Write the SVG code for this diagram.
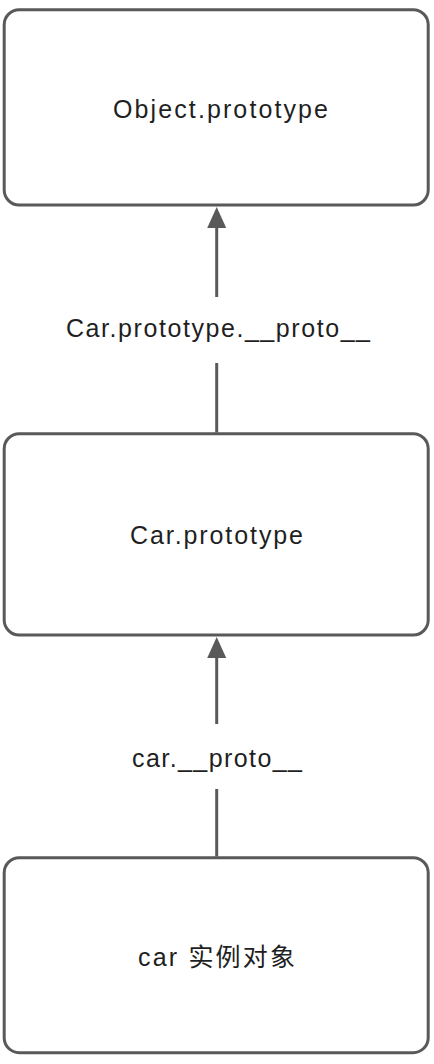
<svg xmlns="http://www.w3.org/2000/svg" width="434" height="1064" viewBox="0 0 434 1064">
<style>
.box{fill:#ffffff;stroke:#595959;stroke-width:3}
.lbl{font-family:"Liberation Sans","Noto Sans CJK SC",sans-serif;font-size:25px;fill:#1f1f1f}
.con{stroke:#595959;stroke-width:3;fill:none}
</style>
<defs>
<marker id="arr" viewBox="0 0 21 19" refX="0" refY="9.5" markerWidth="21" markerHeight="19" markerUnits="userSpaceOnUse" orient="auto">
<path d="M0,0 L21,9.5 L0,19 z" fill="#595959"/>
</marker>
</defs>
<rect width="434" height="1064" fill="#ffffff"/>
<g id="node-object-prototype">
<rect class="box" x="4.2" y="9.7" width="424" height="195.3" rx="15"/>
<text class="lbl" x="113" y="118" textLength="215">Object.prototype</text>
</g>
<g id="node-car-prototype">
<rect class="box" x="4.2" y="433.7" width="424" height="201.3" rx="15"/>
<text class="lbl" x="130" y="544" textLength="173">Car.prototype</text>
</g>
<g id="node-car-instance">
<rect class="box" x="4.2" y="857.7" width="424" height="195" rx="15"/>
<text class="lbl" x="138" y="966" textLength="157">car 实例对象</text>
</g>
<g id="connectors">
<line class="con" x1="216.7" y1="432.5" x2="216.7" y2="363"/>
<line class="con" x1="216.7" y1="297" x2="216.7" y2="228" marker-end="url(#arr)"/>
<text class="lbl" x="66" y="337" textLength="304">Car.prototype.__proto__</text>
<line class="con" x1="216.7" y1="856.5" x2="216.7" y2="789"/>
<line class="con" x1="216.7" y1="724" x2="216.7" y2="658" marker-end="url(#arr)"/>
<text class="lbl" x="132" y="767" textLength="170">car.__proto__</text>
</g>
</svg>
